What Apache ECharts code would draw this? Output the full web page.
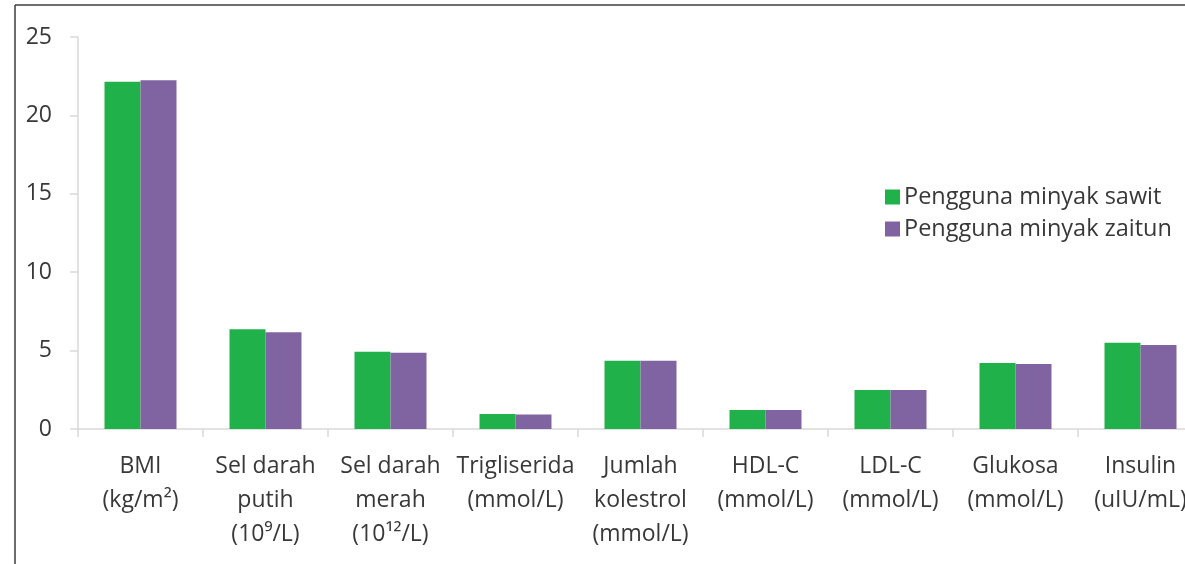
<!DOCTYPE html>
<html>
<head>
<meta charset="utf-8">
<script src="https://cdn.jsdelivr.net/npm/echarts@6/dist/echarts.min.js"></script>
<style>
html,body{margin:0;padding:0;background:#fff;}
#c{width:1185px;height:564px;}
</style>
</head>
<body>
<div id="c"></div>
<script>
var categories = [
  'BMI\n(kg/m²)',
  'Sel darah\nputih\n(10⁹/L)',
  'Sel darah\nmerah\n(10¹²/L)',
  'Trigliserida\n(mmol/L)',
  'Jumlah\nkolestrol\n(mmol/L)',
  'HDL-C\n(mmol/L)',
  'LDL-C\n(mmol/L)',
  'Glukosa\n(mmol/L)',
  'Insulin\n(uIU/mL)'
];
var seriesNames = ['Pengguna minyak sawit', 'Pengguna minyak zaitun'];
var sawit = [22.15, 6.36, 4.93, 0.95, 4.36, 1.21, 2.49, 4.21, 5.5];
var zaitun = [22.24, 6.17, 4.87, 0.92, 4.36, 1.21, 2.49, 4.15, 5.36];
var yTicks = { min: 0, max: 25, interval: 5 };

var chart = echarts.init(document.getElementById('c'), null, { renderer: 'canvas' });
var font = '"Open Sans", sans-serif';
var textColor = '#383838';
chart.setOption({
  animation: false,
  backgroundColor: '#fff',
  textStyle: { fontFamily: font },
  grid: { left: 78, top: 37, bottom: 135, width: 1125, containLabel: false, outerBoundsMode: 'none' },
  legend: {
    orient: 'vertical',
    left: 880,
    top: 180,
    itemWidth: 15,
    itemHeight: 15,
    itemGap: 8,
    icon: 'rect',
    textStyle: { fontSize: 23.5, color: textColor, fontFamily: font, padding: [0, 0, 0, -1] },
    data: seriesNames
  },
  xAxis: {
    type: 'category',
    data: categories,
    axisLine: { lineStyle: { color: '#d9d9d9', width: 1.5 } },
    axisTick: { show: true, length: 8, lineStyle: { color: '#d9d9d9', width: 1.5 } },
    axisLabel: { fontSize: 23, color: textColor, lineHeight: 34, margin: 20, interval: 0, fontFamily: font }
  },
  yAxis: {
    type: 'value',
    min: yTicks.min, max: yTicks.max, interval: yTicks.interval,
    axisLine: { show: true, lineStyle: { color: '#d9d9d9', width: 1.5 } },
    axisTick: { show: true, length: 8, lineStyle: { color: '#d9d9d9', width: 1.5 } },
    splitLine: { show: false },
    axisLabel: { fontSize: 23, color: textColor, margin: 26, fontFamily: font }
  },
  series: [
    { name: seriesNames[0], type: 'bar', data: sawit, barWidth: 36, barGap: '0%', itemStyle: { color: '#21b14b' } },
    { name: seriesNames[1], type: 'bar', data: zaitun, barWidth: 36, barGap: '0%', itemStyle: { color: '#8064a2' } }
  ],
  graphic: [
    { type: 'line', shape: { x1: 15, y1: 5, x2: 1185, y2: 5 }, style: { stroke: '#3c3c3c', lineWidth: 1.5 } },
    { type: 'line', shape: { x1: 15, y1: 5, x2: 15, y2: 564 }, style: { stroke: '#3c3c3c', lineWidth: 1.5 } }
  ]
});
</script>
</body>
</html>
